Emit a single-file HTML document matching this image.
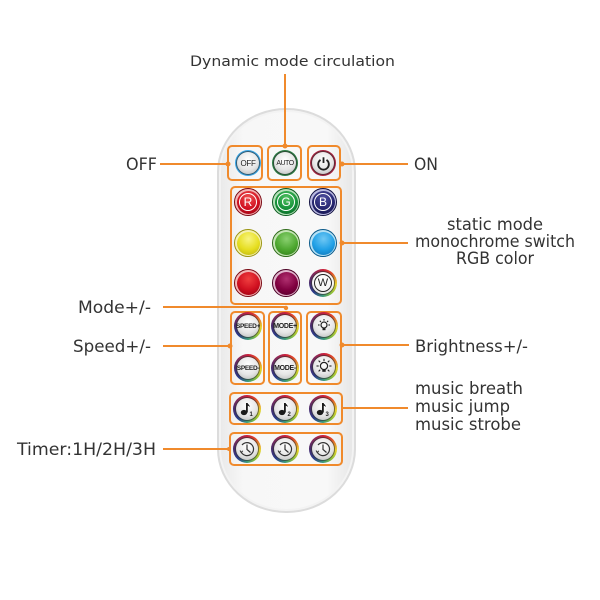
<!DOCTYPE html>
<html><head><meta charset="utf-8">
<style>
html,body{margin:0;padding:0}
body{width:600px;height:600px;background:#fff;position:relative;overflow:hidden;font-family:"DejaVu Sans","Liberation Sans",sans-serif}
.remote{position:absolute;left:217px;top:108px;width:139px;height:405px;box-sizing:border-box;border:2px solid #dcdcdc;border-radius:69px/64px;background:linear-gradient(90deg,#e9e9e9 0%,#f7f7f7 18%,#f8f8f8 80%,#e6e6e6 100%);box-shadow:inset 0 0 0 2px #f3f3f3}
.box{position:absolute;box-sizing:border-box;border:2px solid #f08a2c;border-radius:5px}
.b{position:absolute;border-radius:50%;box-sizing:border-box}
.b i{position:absolute;inset:3px;border-radius:50%;display:flex;align-items:center;justify-content:center;font-style:normal;font-family:"Liberation Sans",sans-serif;font-weight:bold;color:#222;background:radial-gradient(circle at 50% 35%,#ffffff,#e6e6e6 55%,#b4b4b4 100%);box-shadow:0 0 0 1px rgba(50,50,50,.65)}
.rb{width:28px;height:28px;background:conic-gradient(#c81e3c,#e0482a 40deg,#e6d22a 95deg,#8cc03a 140deg,#3a9a7a 180deg,#2a3a8a 225deg,#4a2a6a 275deg,#8a2a5a 320deg,#c81e3c)}
.c{width:28px;height:28px;border:1.5px solid}
.c i{inset:1.5px;box-shadow:none}
.t{font-size:6px;letter-spacing:-0.3px}
svg.ov{position:absolute;left:0;top:0}
</style></head><body>

<div class="remote"></div>

<!-- boxes -->
<div class="box" style="left:227px;top:145px;width:36px;height:36px"></div>
<div class="box" style="left:267px;top:145px;width:35px;height:36px"></div>
<div class="box" style="left:307px;top:145px;width:34px;height:36px"></div>
<div class="box" style="left:230px;top:186px;width:112px;height:119px"></div>
<div class="box" style="left:230px;top:311px;width:35px;height:74px"></div>
<div class="box" style="left:268px;top:311px;width:34px;height:74px"></div>
<div class="box" style="left:306px;top:311px;width:36px;height:74px"></div>
<div class="box" style="left:229px;top:392px;width:114px;height:33px"></div>
<div class="box" style="left:229px;top:432px;width:114px;height:34px"></div>

<!-- row 1 -->
<div class="b" style="left:235px;top:150px;width:26px;height:26px;background:#3aa6e6"><i style="inset:2px;font-size:8px;font-weight:normal;letter-spacing:-0.3px">OFF</i></div>
<div class="b" style="left:272px;top:150px;width:26px;height:26px;background:#2a7e44"><i style="inset:2px;font-size:7px;font-weight:normal;letter-spacing:-0.5px">AUTO</i></div>
<div class="b" style="left:310px;top:150px;width:26px;height:26px;background:#a8203e"><i style="inset:2px"><svg width="15" height="15" viewBox="0 0 14 14"><path d="M4.2 3.6 A5 5 0 1 0 9.8 3.6" fill="none" stroke="#222" stroke-width="1.7"/><line x1="7" y1="1.2" x2="7" y2="6.5" stroke="#222" stroke-width="1.7"/></svg></i></div>

<!-- color buttons -->
<div class="b c" style="left:234px;top:188px;background:#f2b4b4;border-color:#7a0a14"><i style="background:radial-gradient(circle at 50% 30%,#f05050,#d01020 55%,#900010)"><span style="display:flex;width:16px;height:16px;border:1.3px solid #fff;border-radius:50%;align-items:center;justify-content:center;color:#fff;font-size:12px;font-weight:normal">R</span></i></div>
<div class="b c" style="left:272px;top:188px;background:#b4e0b8;border-color:#0a5a1e"><i style="background:radial-gradient(circle at 50% 30%,#50c060,#15923a 55%,#0a6024)"><span style="display:flex;width:16px;height:16px;border:1.3px solid #fff;border-radius:50%;align-items:center;justify-content:center;color:#fff;font-size:12px;font-weight:normal">G</span></i></div>
<div class="b c" style="left:309px;top:188px;background:#b8b8e0;border-color:#101040"><i style="background:radial-gradient(circle at 50% 30%,#5050a0,#262670 55%,#14144a)"><span style="display:flex;width:16px;height:16px;border:1.3px solid #fff;border-radius:50%;align-items:center;justify-content:center;color:#fff;font-size:12px;font-weight:normal">B</span></i></div>

<div class="b c" style="left:234px;top:229px;background:#f4f0b0;border-color:#9a9410"><i style="background:radial-gradient(circle at 50% 30%,#f8f480,#e6de20 55%,#b8b010)"></i></div>
<div class="b c" style="left:272px;top:229px;background:#c4e4b4;border-color:#2e6a18"><i style="background:radial-gradient(circle at 50% 30%,#8ad070,#4ea830 55%,#2e7a18)"></i></div>
<div class="b c" style="left:309px;top:229px;background:#b4e0f4;border-color:#0a5a8a"><i style="background:radial-gradient(circle at 50% 30%,#70c8f4,#20a0e6 55%,#1070b0)"></i></div>

<div class="b c" style="left:234px;top:269px;background:#f2b4b4;border-color:#7a0a14"><i style="background:radial-gradient(circle at 50% 30%,#f04040,#d01020 55%,#900010)"></i></div>
<div class="b c" style="left:272px;top:269px;background:#e0b4cc;border-color:#4a0024"><i style="background:radial-gradient(circle at 50% 30%,#b03070,#800040 55%,#500028)"></i></div>
<div class="b rb" style="left:309px;top:269px"><i style="background:radial-gradient(circle at 50% 35%,#fff,#f4f4f4 60%,#d0d0d0)"><span style="display:flex;width:16px;height:16px;border:1.3px solid #222;border-radius:50%;align-items:center;justify-content:center;color:#222;font-size:11px;font-weight:normal">W</span></i></div>

<!-- speed / mode / brightness -->
<div class="b rb" style="left:234px;top:312px"><i class="t" style="font-size:6.5px">SPEED+</i></div>
<div class="b rb" style="left:234px;top:354px"><i class="t" style="font-size:6.5px">SPEED-</i></div>
<div class="b rb" style="left:271px;top:312px"><i class="t" style="font-size:7px">MODE+</i></div>
<div class="b rb" style="left:271px;top:354px"><i class="t" style="font-size:7px">MODE-</i></div>
<div class="b rb" style="left:310px;top:312px"><i><svg width="16" height="16" viewBox="0 0 16 16"><circle cx="8" cy="7" r="3" fill="none" stroke="#222" stroke-width="1.2"/><path d="M6.5 10h3v2.2h-3z" fill="#222"/><g stroke="#222" stroke-width="1.1"><line x1="8" y1="1" x2="8" y2="2.6"/><line x1="2" y1="7" x2="3.6" y2="7"/><line x1="12.4" y1="7" x2="14" y2="7"/><line x1="3.8" y1="2.8" x2="5" y2="4"/><line x1="12.2" y1="2.8" x2="11" y2="4"/></g></svg></i></div>
<div class="b rb" style="left:310px;top:353px"><i><svg width="18" height="18" viewBox="0 0 18 18"><circle cx="9" cy="8" r="3.6" fill="none" stroke="#222" stroke-width="1.2"/><path d="M7.3 11.6h3.4v2.2h-3.4z" fill="#222"/><g stroke="#222" stroke-width="1.1"><line x1="9" y1="0.8" x2="9" y2="3"/><line x1="1.5" y1="8" x2="3.7" y2="8"/><line x1="14.3" y1="8" x2="16.5" y2="8"/><line x1="3.6" y1="2.6" x2="5.2" y2="4.2"/><line x1="14.4" y1="2.6" x2="12.8" y2="4.2"/><line x1="3.6" y1="13.4" x2="5.2" y2="11.8"/><line x1="14.4" y1="13.4" x2="12.8" y2="11.8"/></g></svg></i></div>

<!-- music -->
<div class="b rb" style="left:233px;top:395px"><i><svg width="18" height="18" viewBox="0 0 18 18"><ellipse cx="6" cy="12.5" rx="3.2" ry="2.6" fill="#1a1a1a"/><rect x="8" y="3" width="1.8" height="9.5" fill="#1a1a1a"/><path d="M8 3 Q11 3.5 12 7 Q10.5 5.5 9.5 5.8Z" fill="#1a1a1a"/><text x="11.5" y="16" font-size="6" font-family="Liberation Sans" fill="#222">1</text></svg></i></div>
<div class="b rb" style="left:271px;top:395px"><i><svg width="18" height="18" viewBox="0 0 18 18"><ellipse cx="6" cy="12.5" rx="3.2" ry="2.6" fill="#1a1a1a"/><rect x="8" y="3" width="1.8" height="9.5" fill="#1a1a1a"/><path d="M8 3 Q11 3.5 12 7 Q10.5 5.5 9.5 5.8Z" fill="#1a1a1a"/><text x="11.5" y="16" font-size="6" font-family="Liberation Sans" fill="#222">2</text></svg></i></div>
<div class="b rb" style="left:309px;top:395px"><i><svg width="18" height="18" viewBox="0 0 18 18"><ellipse cx="6" cy="12.5" rx="3.2" ry="2.6" fill="#1a1a1a"/><rect x="8" y="3" width="1.8" height="9.5" fill="#1a1a1a"/><path d="M8 3 Q11 3.5 12 7 Q10.5 5.5 9.5 5.8Z" fill="#1a1a1a"/><text x="11.5" y="16" font-size="6" font-family="Liberation Sans" fill="#222">3</text></svg></i></div>

<!-- timer -->
<div class="b rb" style="left:233px;top:435px"><i><svg width="18" height="18" viewBox="0 0 18 18"><path d="M4 5 A6.5 6.5 0 1 1 3.2 12" fill="none" stroke="#333" stroke-width="1.2"/><path d="M9 4.5V9.5L12.5 12.5" fill="none" stroke="#333" stroke-width="1.2"/><path d="M2 10.5l1.2 2 1.6-1.7" fill="none" stroke="#333" stroke-width="1"/></svg></i></div>
<div class="b rb" style="left:271px;top:435px"><i><svg width="18" height="18" viewBox="0 0 18 18"><path d="M4 5 A6.5 6.5 0 1 1 3.2 12" fill="none" stroke="#333" stroke-width="1.2"/><path d="M9 4.5V9.5L12.5 12.5" fill="none" stroke="#333" stroke-width="1.2"/><path d="M2 10.5l1.2 2 1.6-1.7" fill="none" stroke="#333" stroke-width="1"/></svg></i></div>
<div class="b rb" style="left:309px;top:435px"><i><svg width="18" height="18" viewBox="0 0 18 18"><path d="M4 5 A6.5 6.5 0 1 1 3.2 12" fill="none" stroke="#333" stroke-width="1.2"/><path d="M9 4.5V9.5L12.5 12.5" fill="none" stroke="#333" stroke-width="1.2"/><path d="M2 10.5l1.2 2 1.6-1.7" fill="none" stroke="#333" stroke-width="1"/></svg></i></div>

<svg class="ov" width="600" height="600" viewBox="0 0 600 600">
<g stroke="#f08a2c" stroke-width="2" fill="none">
<line x1="285" y1="74" x2="285" y2="146"/>
<line x1="160" y1="164" x2="228" y2="164"/>
<line x1="342" y1="164" x2="408" y2="164"/>
<line x1="342" y1="243" x2="408" y2="243"/>
<line x1="163" y1="307" x2="286" y2="307"/>
<line x1="163" y1="346" x2="230" y2="346"/>
<line x1="342" y1="345" x2="409" y2="345"/>
<line x1="343" y1="408" x2="408" y2="408"/>
<line x1="163" y1="449" x2="229" y2="449"/>
</g>
<g fill="#f08a2c">
<circle cx="285" cy="146" r="2.5"/>
<circle cx="228" cy="164" r="2.5"/>
<circle cx="342" cy="164" r="2.5"/>
<circle cx="342" cy="243" r="2.5"/>
<circle cx="286" cy="308" r="2.2"/>
<circle cx="230" cy="346" r="2.5"/>
<circle cx="342" cy="345" r="2.5"/>
<circle cx="229" cy="449" r="2"/>
</g>
<g fill="#333" font-family="DejaVu Sans, Liberation Sans, sans-serif" font-size="16.5">
<text x="190" y="66" font-size="14" textLength="205" lengthAdjust="spacingAndGlyphs">Dynamic mode circulation</text>
<text x="126" y="170" textLength="31" lengthAdjust="spacingAndGlyphs">OFF</text>
<text x="414" y="170" textLength="24" lengthAdjust="spacingAndGlyphs">ON</text>
<text x="495" y="230" text-anchor="middle" textLength="96" lengthAdjust="spacingAndGlyphs">static mode</text>
<text x="495" y="247" text-anchor="middle" textLength="160" lengthAdjust="spacingAndGlyphs">monochrome switch</text>
<text x="495" y="264" text-anchor="middle" textLength="78" lengthAdjust="spacingAndGlyphs">RGB color</text>
<text x="78" y="313" textLength="73" lengthAdjust="spacingAndGlyphs">Mode+/-</text>
<text x="73" y="352" textLength="78" lengthAdjust="spacingAndGlyphs">Speed+/-</text>
<text x="415" y="352" textLength="113" lengthAdjust="spacingAndGlyphs">Brightness+/-</text>
<text x="415" y="394" textLength="108" lengthAdjust="spacingAndGlyphs">music breath</text>
<text x="415" y="412" textLength="95" lengthAdjust="spacingAndGlyphs">music jump</text>
<text x="415" y="430" textLength="106" lengthAdjust="spacingAndGlyphs">music strobe</text>
<text x="17" y="455" textLength="139" lengthAdjust="spacingAndGlyphs">Timer:1H/2H/3H</text>
</g>
</svg>
</body></html>
